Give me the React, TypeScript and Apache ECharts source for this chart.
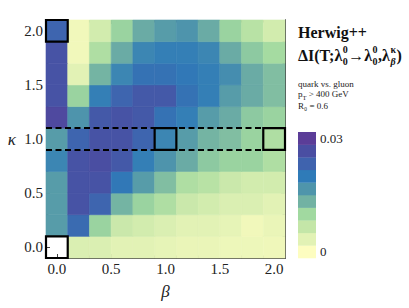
import React, { useEffect, useRef } from "react";
import * as echarts from "echarts";

// β (x) and κ (y) cell centres
const betaValues = [0.0, 0.2, 0.4, 0.6, 0.8, 1.0, 1.2, 1.4, 1.6, 1.8, 2.0];
const kappaValues = [0.0, 0.2, 0.4, 0.6, 0.8, 1.0, 1.2, 1.4, 1.6, 1.8, 2.0];

// ΔI values, one row per κ (bottom to top), columns follow betaValues
const rowK00 = [null, 0.003, 0.003, 0.002, 0.002, 0.0015, 0.001, 0.001, 0.0005, 0.0005, 0.0003];
const rowK02 = [0.016, 0.023, 0.010, 0.005, 0.004, 0.003, 0.002, 0.002, 0.0015, 0.0, 0.001];
const rowK04 = [0.016, 0.027, 0.024, 0.013, 0.010, 0.008, 0.005, 0.004, 0.003, 0.003, 0.002];
const rowK06 = [0.016, 0.027, 0.027, 0.021, 0.016, 0.012, 0.008, 0.007, 0.005, 0.004, 0.004];
const rowK08 = [0.019, 0.027, 0.028, 0.026, 0.020, 0.017, 0.014, 0.011, 0.010, 0.010, 0.008];
const rowK10 = [0.016, 0.024, 0.027, 0.027, 0.024, 0.019, 0.016, 0.013, 0.012, 0.010, 0.008];
const rowK12 = [0.029, 0.017, 0.026, 0.027, 0.026, 0.022, 0.020, 0.016, 0.014, 0.011, 0.010];
const rowK14 = [0.027, 0.010, 0.020, 0.024, 0.026, 0.026, 0.022, 0.020, 0.016, 0.014, 0.012];
const rowK16 = [0.027, 0.002, 0.013, 0.019, 0.022, 0.022, 0.021, 0.020, 0.018, 0.014, 0.012];
const rowK18 = [0.027, 0.0, 0.008, 0.014, 0.019, 0.020, 0.020, 0.019, 0.014, 0.011, 0.009];
const rowK20 = [0.024, 0.0, 0.004, 0.010, 0.014, 0.016, 0.017, 0.014, 0.010, 0.007, 0.004];
const rows = [rowK00, rowK02, rowK04, rowK06, rowK08, rowK10, rowK12, rowK14, rowK16, rowK18, rowK20];

// highlighted cells [β, κ]
const boxedCells = [[0.0, 2.0], [1.0, 1.0], [2.0, 1.0], [0.0, 0.0]];
// dashed band around κ = 1
const dashedKappa = [0.9, 1.1];

const axisMin = -0.1;
const axisMax = 2.1;
const majorTicks = [0, 0.5, 1, 1.5, 2];
const minorTicks = Array.from({ length: 21 }, (_, i) => i / 10);
const colorbarMin = 0;
const colorbarMax = 0.03;
const colorbarLabels = ["0.03", "0"];

// colour scale, low -> high
const scaleColors = [
  "#fdfdc0", "#e2f2b5", "#c4e6a8", "#a1d9a0", "#72b2a3",
  "#4f95ab", "#2f7bb8", "#3f63ae", "#4a4ea2", "#5b3d98",
];

const SERIF = "'Liberation Serif', 'Times New Roman', serif";
const AX = "#444";

export default function App() {
  const ref = useRef<HTMLDivElement>(null);
  useEffect(() => {
    if (!ref.current) return;
    const chart = echarts.init(ref.current, undefined, { renderer: "svg" });

    const cells: any[] = [];
    rows.forEach((row, ki) =>
      row.forEach((v, bi) => {
        if (v !== null) cells.push([betaValues[bi], kappaValues[ki], v]);
      })
    );

    const half = 0.1;
    const canvas = document.createElement("canvas");
    const ctx = canvas.getContext("2d")!;
    const tw = (t: string, font: string) => {
      ctx.font = font;
      return ctx.measureText(t).width;
    };

    const bigFont = `bold 16px ${SERIF}`;
    const scriptFont = `bold 10px ${SERIF}`;
    const fx0 = 298;
    const fy = 55;
    const supY = 49;
    const subY = 61;
    const formula: any[] = [];
    let cx = fx0;
    const addMain = (t: string) => {
      formula.push({ type: "text", x: cx, y: fy, style: { text: t, font: bigFont, fill: "#111", textVerticalAlign: "middle" } });
      cx += tw(t, bigFont);
    };
    const addStack = (sup: string, sub: string, subItalic = false) => {
      formula.push({ type: "text", x: cx + 0.5, y: supY, style: { text: sup, font: scriptFont, fill: "#111", textVerticalAlign: "middle" } });
      const subFont = subItalic ? `italic bold 10px ${SERIF}` : scriptFont;
      formula.push({ type: "text", x: cx + 0.5, y: subY, style: { text: sub, font: subFont, fill: "#111", textVerticalAlign: "middle" } });
      cx += Math.max(tw(sup, scriptFont), tw(sub, subFont)) + 1;
    };
    addMain("ΔI(T;λ");
    addStack("0", "0");
    addMain("→λ");
    addStack("0", "0");
    addMain(",λ");
    addStack("κ", "β", true);
    addMain(")");

    const cbX = 298, cbTop = 132, cbBottom = 258, cbW = 18;
    const bandH = (cbBottom - cbTop) / scaleColors.length;
    const colorbar = scaleColors.map((c, i) => ({
      type: "rect",
      shape: { x: cbX, y: cbBottom - (i + 1) * bandH, width: cbW, height: bandH + 0.3 },
      style: { fill: c },
    }));

    const mkX = (pos: string, ticks: number[], len: number, labels: number[] | null) => ({
      type: "value", position: pos, min: axisMin, max: axisMax,
      axisLine: { show: true, onZero: false, lineStyle: { color: AX, width: 1 } },
      axisTick: { show: true, inside: true, length: len, customValues: ticks, lineStyle: { color: AX, width: 1 } },
      axisLabel: labels
        ? { show: true, customValues: labels, formatter: (v: number) => v.toFixed(1), fontFamily: SERIF, fontSize: 15, color: "#222", margin: 3 }
        : { show: false },
      splitLine: { show: false },
    });

    chart.setOption({
      animation: false,
      backgroundColor: "#fff",
      grid: { left: 46, top: 20, width: 239, height: 238, containLabel: false },
      xAxis: [
        { ...mkX("bottom", majorTicks, 4, majorTicks), name: "β", nameLocation: "middle", nameGap: 25,
          nameTextStyle: { fontFamily: SERIF, fontStyle: "italic", fontSize: 17, color: "#222" } },
        mkX("bottom", minorTicks, 2.5, null),
        mkX("top", majorTicks, 4, null),
        mkX("top", minorTicks, 2.5, null),
      ],
      yAxis: [
        { ...mkX("left", majorTicks, 4, majorTicks), name: "κ", nameLocation: "middle", nameGap: 30, nameRotate: 0,
          nameTextStyle: { fontFamily: SERIF, fontStyle: "italic", fontSize: 17, color: "#222" } },
        mkX("left", minorTicks, 2.5, null),
        mkX("right", majorTicks, 4, null),
        mkX("right", minorTicks, 2.5, null),
      ],
      visualMap: {
        show: false, type: "continuous", seriesIndex: 0, dimension: 2,
        min: colorbarMin - (colorbarMax - colorbarMin) / 18,
        max: colorbarMax + (colorbarMax - colorbarMin) / 18,
        inRange: { color: scaleColors },
      },
      series: [
        {
          type: "custom", xAxisIndex: 0, yAxisIndex: 0, data: cells, z: 1,
          renderItem: (params: any, api: any) => {
            const x = api.value(0), y = api.value(1);
            const p1 = api.coord([x - half, y + half]);
            const p2 = api.coord([x + half, y - half]);
            const c = api.visual("color");
            return {
              type: "rect",
              shape: { x: p1[0], y: p1[1], width: p2[0] - p1[0], height: p2[1] - p1[1] },
              style: { fill: c, stroke: c, lineWidth: 0.6 },
            };
          },
        },
        {
          type: "custom", xAxisIndex: 0, yAxisIndex: 0, data: boxedCells, z: 5,
          renderItem: (params: any, api: any) => {
            const x = api.value(0), y = api.value(1);
            const p1 = api.coord([x - half, y + half]);
            const p2 = api.coord([x + half, y - half]);
            return {
              type: "rect",
              shape: { x: p1[0], y: p1[1], width: p2[0] - p1[0], height: p2[1] - p1[1] },
              style: { fill: "none", stroke: "#000", lineWidth: 2.2 },
            };
          },
          markLine: {
            silent: true, symbol: "none", animation: false,
            label: { show: false },
            lineStyle: { color: "#000", width: 1.8, type: [6, 3.5] },
            data: dashedKappa.map((k) => ({ yAxis: k })),
          },
        },
      ],
      graphic: [
        { type: "text", x: 298, y: 32, style: { text: "Herwig++", font: bigFont, fill: "#111", textVerticalAlign: "middle" } },
        ...formula,
        { type: "text", x: 298, y: 84, style: { text: "quark vs. gluon", font: `9px ${SERIF}`, fill: "#222", textVerticalAlign: "middle" } },
        {
          type: "text", x: 298, y: 95,
          style: {
            text: "{a|p}{s|T}{a| > 400 GeV}", textVerticalAlign: "middle", fill: "#222",
            rich: {
              a: { fontFamily: SERIF, fontSize: 9, lineHeight: 11, verticalAlign: "top" },
              s: { fontFamily: SERIF, fontSize: 6.5, lineHeight: 11, verticalAlign: "bottom" },
            },
          },
        },
        { type: "text", x: 298, y: 106, style: { text: "R₀ = 0.6", font: `9px ${SERIF}`, fill: "#222", textVerticalAlign: "middle" } },
        ...colorbar,
        { type: "text", x: 320, y: cbTop + bandH / 2, style: { text: colorbarLabels[0], font: `13px ${SERIF}`, fill: "#222", textVerticalAlign: "middle" } },
        { type: "text", x: 320, y: cbBottom - bandH / 2, style: { text: colorbarLabels[1], font: `13px ${SERIF}`, fill: "#222", textVerticalAlign: "middle" } },
      ],
    });
    return () => chart.dispose();
  }, []);
  return <div ref={ref} style={{ position: "fixed", left: 0, top: 0, width: 409, height: 308 }} />;
}
